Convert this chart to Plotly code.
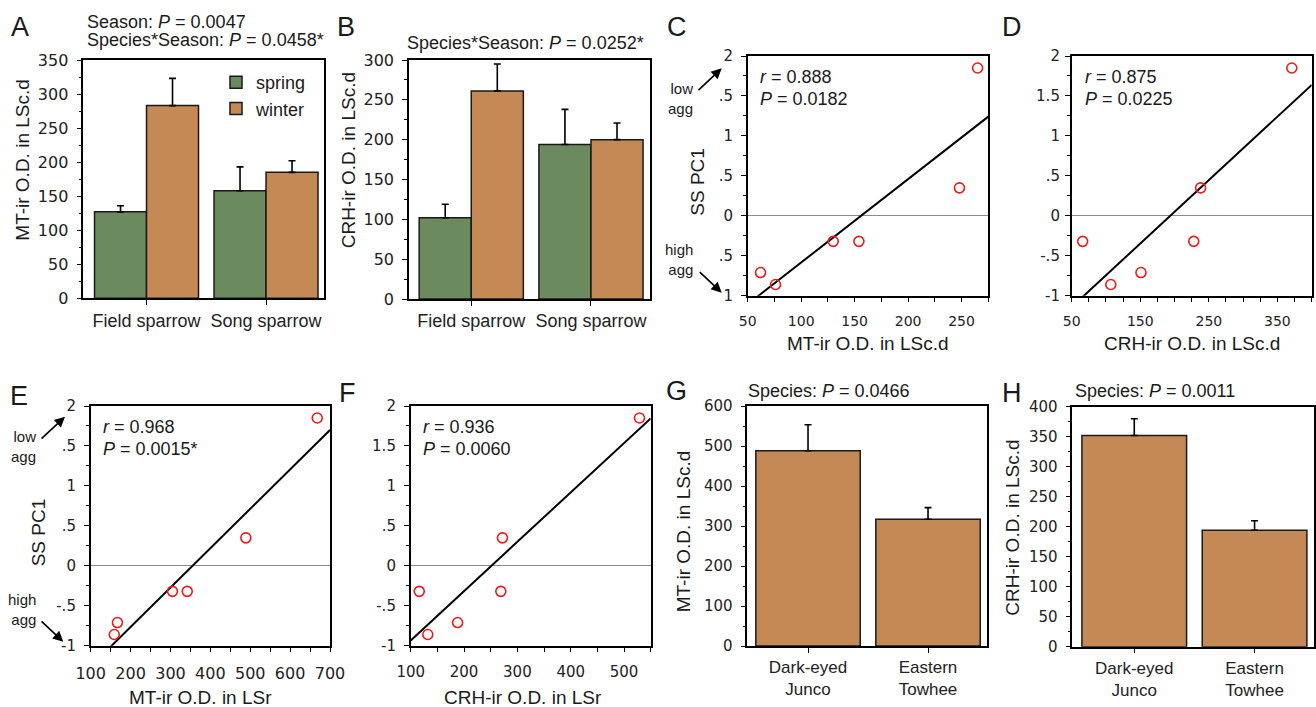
import numpy as np
import plotly.graph_objects as go

W, H = 1316, 707

# ---------------- data ----------------
species_ab = ["Field sparrow", "Song sparrow"]
mt_lscd_spring = [127, 158]
mt_lscd_spring_se = [9, 35]
mt_lscd_winter = [283, 185]
mt_lscd_winter_se = [40, 17]
crh_lscd_spring = [102, 194]
crh_lscd_spring_se = [17, 44]
crh_lscd_winter = [261, 200]
crh_lscd_winter_se = [34, 21]

ss_pc1 = [1.85, 0.35, -0.32, -0.32, -0.71, -0.86]
mt_lscd_ind = [265, 248, 130, 154, 62, 76]
crh_lscd_ind = [371, 238, 228, 66, 151, 107]
mt_lsr_ind = [668, 489, 305, 342, 167, 159]
crh_lsr_ind = [529, 272, 269, 116, 188, 132]

species_gh = ["Dark-eyed<br>Junco", "Eastern<br>Towhee"]
mt_lscd_gh = [488, 317]
mt_lscd_gh_se = [65, 29]
crh_lscd_gh = [352, 194]
crh_lscd_gh_se = [28, 16]

GREEN = "#6b8b5e"
ORANGE = "#c48954"
RED = "#f01818"
FONT = "Liberation Sans"
TICKFONT = "DejaVu Sans"

# plot-area boxes in px (left, right, top, bottom)
boxes = {
    1: (83.3, 324, 60, 298.3),
    2: (409, 650, 60, 299),
    3: (747.7, 988.3, 56, 295.7),
    4: (1071.7, 1311.7, 56, 295.7),
    5: (90.7, 330, 406, 645.7),
    6: (410.7, 650.7, 406, 645.7),
    7: (747.3, 986.7, 406, 646),
    8: (1072.3, 1314, 406.7, 646.7),
}


def px(x):
    return x / W


def py(y):
    return 1 - y / H


fig = go.Figure()


def ax(i):
    return ("x" if i == 1 else f"x{i}"), ("y" if i == 1 else f"y{i}")


def bar_trace(i, x, y, err, color, name, show):
    xa, ya = ax(i)
    return go.Bar(
        x=x, y=y, name=name, showlegend=show, legendgroup=name,
        marker=dict(color=color, line=dict(color="#1a1a1a", width=1.5)),
        error_y=dict(type="data", symmetric=False, array=err,
                     arrayminus=[0] * len(err), color="black",
                     thickness=1.6, width=3.5),
        xaxis=xa, yaxis=ya,
    )


# A
fig.add_trace(bar_trace(1, species_ab, mt_lscd_spring, mt_lscd_spring_se, GREEN, "spring", True))
fig.add_trace(bar_trace(1, species_ab, mt_lscd_winter, mt_lscd_winter_se, ORANGE, "winter", True))
# B
fig.add_trace(bar_trace(2, species_ab, crh_lscd_spring, crh_lscd_spring_se, GREEN, "spring", False))
fig.add_trace(bar_trace(2, species_ab, crh_lscd_winter, crh_lscd_winter_se, ORANGE, "winter", False))
# G, H
fig.add_trace(bar_trace(7, species_gh, mt_lscd_gh, mt_lscd_gh_se, ORANGE, "winter", False))
fig.add_trace(bar_trace(8, species_gh, crh_lscd_gh, crh_lscd_gh_se, ORANGE, "winter", False))

# scatter panels
scatter_specs = [
    (3, mt_lscd_ind, (50, 275)),
    (4, crh_lscd_ind, (50, 400)),
    (5, mt_lsr_ind, (100, 700)),
    (6, crh_lsr_ind, (100, 550)),
]
for i, xs, xr in scatter_specs:
    xa, ya = ax(i)
    slope, icpt = np.polyfit(np.array(xs, float), np.array(ss_pc1, float), 1)
    lx = np.array(xr, float)
    fig.add_trace(go.Scatter(x=lx, y=slope * lx + icpt, mode="lines",
                             line=dict(color="black", width=2),
                             showlegend=False, xaxis=xa, yaxis=ya, hoverinfo="skip"))
    fig.add_trace(go.Scatter(x=xs, y=ss_pc1, mode="markers",
                             marker=dict(symbol="circle-open", size=10,
                                         color=RED, line=dict(color=RED, width=1.6)),
                             showlegend=False, xaxis=xa, yaxis=ya))


def tf(size):
    return dict(family=TICKFONT, size=size, color="#222")


axis_common = dict(showline=True, linecolor="black", linewidth=1.5, mirror=True,
                   ticks="outside", ticklen=5, tickwidth=1.2, tickcolor="black",
                   showgrid=False, zeroline=False, automargin=False,
                   tickfont=tf(14))

layout_axes = {}
for i, (l, r, t, b) in boxes.items():
    xn = "xaxis" if i == 1 else f"xaxis{i}"
    yn = "yaxis" if i == 1 else f"yaxis{i}"
    xa, ya = ax(i)
    layout_axes[xn] = dict(axis_common, domain=[px(l), px(r)], anchor=ya)
    layout_axes[yn] = dict(axis_common, domain=[py(b), py(t)], anchor=xa,
                           ticklabelstandoff=5)

cat_font = dict(family=FONT, size=18, color="#222")
minor_y = lambda d: dict(dtick=d, ticks="outside", ticklen=3, tickcolor="black")
# A
layout_axes["xaxis"].update(type="category", range=[-0.529, 1.485], tickfont=cat_font)
layout_axes["yaxis"].update(range=[0, 350], dtick=50, tickfont=tf(16), minor=minor_y(25))
# B
layout_axes["xaxis2"].update(type="category", range=[-0.52, 1.493], tickfont=cat_font)
layout_axes["yaxis2"].update(range=[0, 300], dtick=50, tickfont=tf(16), minor=minor_y(25))
# G
layout_axes["xaxis7"].update(type="category", range=[-0.506, 1.489],
                             tickfont=dict(family=FONT, size=17, color="#222"))
layout_axes["yaxis7"].update(range=[0, 600], dtick=100, tickfont=tf(15), minor=minor_y(50))
# H
layout_axes["xaxis8"].update(type="category", range=[-0.515, 1.494],
                             tickfont=dict(family=FONT, size=17, color="#222"))
layout_axes["yaxis8"].update(range=[0, 400], dtick=50, tickfont=tf(15), minor=minor_y(25))

pc_vals = [-1, -0.5, 0, 0.5, 1, 1.5, 2]
pc_text = {
    3: ["1", ".5", "0", ".5", "1", ".5", "2"],
    4: ["-1", "-.5", "0", ".5", "1", "1.5", "2"],
    5: ["-1", "-.5", "0", ".5", "1", ".5", "2"],
    6: ["-1", "-.5", "0", ".5", "1", "1.5", "2"],
}
mx = lambda d, t0: dict(dtick=d, tick0=t0, ticks="outside", ticklen=5, tickcolor="black")
x_ticks = {
    3: dict(range=[50, 275], tick0=50, dtick=50, tickfont=tf(14), minor=mx(25, 50)),
    4: dict(range=[50, 400], tick0=50, dtick=100, tickfont=tf(14), minor=mx(25, 50)),
    5: dict(range=[100, 700], tick0=100, dtick=100, tickfont=tf(16), minor=mx(50, 100)),
    6: dict(range=[100, 550], tick0=100, dtick=100, tickfont=tf(15), minor=mx(50, 100)),
}
for i in (3, 4, 5, 6):
    layout_axes[f"xaxis{i}"].update(ticklabelstandoff=7, **x_ticks[i])
    layout_axes[f"yaxis{i}"].update(range=[-1, 2], tickmode="array", tickvals=pc_vals,
                                    ticktext=pc_text[i], zeroline=True, tickfont=tf(15),
                                    zerolinecolor="#8a8a8a", zerolinewidth=1.2,
                                    minor=dict(dtick=0.25, tick0=0, ticks="outside", ticklen=3, tickcolor="black"))
layout_axes["yaxis4"].update(ticklabelstandoff=2)

annotations = []


def txt(x, y, text, size=18, xanchor="left", yanchor="middle", align="left", angle=0, family=FONT):
    annotations.append(dict(x=px(x), y=py(y), xref="paper", yref="paper", text=text,
                            showarrow=False, xanchor=xanchor, yanchor=yanchor, align=align,
                            textangle=angle, font=dict(family=family, size=size, color="#1a1a1a")))


# panel letters
for letter, x, y in [("A", 20, 27), ("B", 346, 27), ("C", 677, 27), ("D", 1012, 27),
                     ("E", 19, 396), ("F", 347, 393), ("G", 676, 391), ("H", 1012, 393)]:
    txt(x, y, letter, size=27, xanchor="center")

# statistics text
txt(85, 22, "Season: <i>P</i> = 0.0047")
txt(85, 40, "Species*Season: <i>P</i> = 0.0458*")
txt(405, 43, "Species*Season: <i>P</i> = 0.0252*")
txt(746, 391, "Species: <i>P</i> = 0.0466")
txt(1073, 391, "Species: <i>P</i> = 0.0011")
txt(758, 77, "<i>r</i> = 0.888")
txt(758, 99, "<i>P</i> = 0.0182")
txt(1083, 77, "<i>r</i> = 0.875")
txt(1083, 99, "<i>P</i> = 0.0225")
txt(101, 427, "<i>r</i> = 0.968")
txt(101, 449, "<i>P</i> = 0.0015*")
txt(421, 427, "<i>r</i> = 0.936")
txt(421, 449, "<i>P</i> = 0.0060")

# axis titles
txt(21.7, 160, "MT-ir O.D. in LSc.d", size=19, xanchor="center", angle=-90)
txt(348.3, 160, "CRH-ir O.D. in LSc.d", size=19, xanchor="center", angle=-90)
txt(696.7, 182, "SS PC1", size=19, xanchor="center", angle=-90)
txt(868, 343, "MT-ir O.D. in LSc.d", size=19, xanchor="center")
txt(1192, 343, "CRH-ir O.D. in LSc.d", size=19, xanchor="center")
txt(38.3, 532, "SS PC1", size=19, xanchor="center", angle=-90)
txt(201, 697, "MT-ir O.D. in LSr", size=19, xanchor="center")
txt(523, 697, "CRH-ir O.D. in LSr", size=19, xanchor="center")
txt(683.3, 531, "MT-ir O.D. in LSc.d", size=19, xanchor="center", angle=-90)
txt(1011.7, 528, "CRH-ir O.D. in LSc.d", size=19, xanchor="center", angle=-90)

# aggression labels
txt(695, 98, "low<br>agg", size=15, xanchor="right", align="right")
txt(695, 259, "high<br>agg", size=15, xanchor="right", align="right")
txt(38.3, 446, "low<br>agg", size=15, xanchor="right", align="right")
txt(38.3, 609, "high<br>agg", size=15, xanchor="right", align="right")


def arrow(hx, hy, tx, ty):
    annotations.append(dict(x=px(hx), y=py(hy), xref="paper", yref="paper", text="",
                            showarrow=True, ax=tx - hx, ay=ty - hy, arrowhead=2,
                            arrowsize=1.3, arrowwidth=1.6, arrowcolor="black"))


arrow(721.7, 68.3, 697, 91.5)
arrow(721.7, 292.7, 698.3, 270.7)
arrow(65, 416.7, 40, 440)
arrow(63.3, 641.7, 40, 620)

fig.update_layout(
    template="none",
    width=W, height=H, margin=dict(l=0, r=0, t=0, b=0, autoexpand=False),
    paper_bgcolor="white", plot_bgcolor="white",
    barmode="group", bargap=0.13, bargroupgap=0,
    font=dict(family=FONT, color="#1a1a1a"),
    legend=dict(x=px(216), y=py(64), xanchor="left", yanchor="top",
                font=dict(family=FONT, size=18, color="#1a1a1a"),
                bgcolor="rgba(0,0,0,0)", borderwidth=0, tracegroupgap=0, itemwidth=30),
    annotations=annotations,
    **layout_axes,
)

fig.write_html("out.html", config={"displayModeBar": False},
               post_script="document.body.style.margin='0';document.body.style.overflow='hidden';")
